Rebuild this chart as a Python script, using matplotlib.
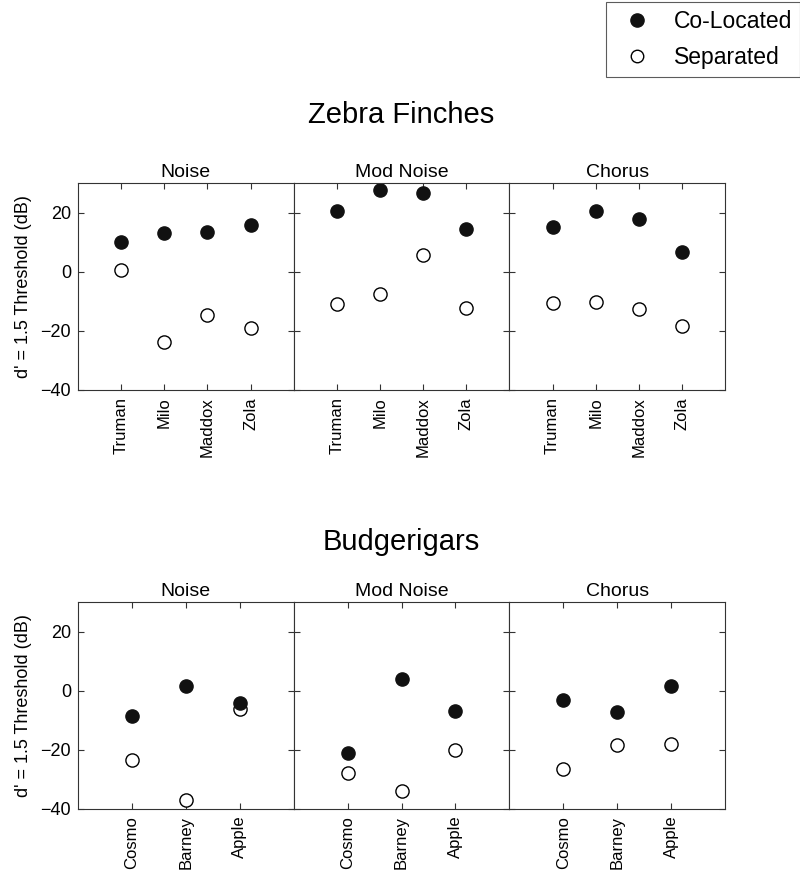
import numpy as np
import matplotlib
matplotlib.use('Agg')
import matplotlib.pyplot as plt
from matplotlib.lines import Line2D

plt.rcParams['font.family'] = ['Liberation Sans', 'DejaVu Sans']

conditions = ['Noise', 'Mod Noise', 'Chorus']

zf_birds = ['Truman', 'Milo', 'Maddox', 'Zola']
zf_coloc = [[10.0, 13.0, 13.4, 15.8],
            [20.5, 27.6, 26.7, 14.4],
            [15.2, 20.6, 17.7, 6.5]]
zf_sep = [[0.7, -23.6, -14.6, -18.9],
          [-10.8, -7.7, 5.8, -12.4],
          [-10.5, -10.3, -12.7, -18.4]]

bg_birds = ['Cosmo', 'Barney', 'Apple']
bg_coloc = [[-8.6, 1.7, -4.0],
            [-21.2, 3.8, -7.0],
            [-3.1, -7.1, 1.7]]
bg_sep = [[-23.4, -37.1, -6.2],
          [-28.0, -34.1, -20.0],
          [-26.7, -18.3, -18.1]]

fig = plt.figure(figsize=(8, 8.71), dpi=100)

left = 78 / 800
w = 215.7 / 800
rows = [(1 - 390 / 871, 207 / 871, zf_birds, zf_coloc, zf_sep, 'Zebra Finches', 1 - 123 / 871),
        (1 - 808.7 / 871, 206.5 / 871, bg_birds, bg_coloc, bg_sep, 'Budgerigars', 1 - 550 / 871)]

ms = 9.5
for bottom, h, birds, coloc, sep, group, ty in rows:
    x = np.arange(1, len(birds) + 1)
    for i, cond in enumerate(conditions):
        ax = fig.add_axes([left + i * w, bottom, w, h])
        ax.plot(x, sep[i], 'o', ms=ms, mfc='white', mec='black', mew=1.0)
        ax.plot(x, coloc[i], 'o', ms=ms, mfc='#111111', mec='#111111')
        ax.set_xlim(0, len(birds) + 1)
        ax.set_ylim(-40, 30)
        ax.set_xticks(x)
        ax.set_xticklabels(birds, rotation=90, fontsize=12)
        ax.set_yticks([-40, -20, 0, 20])
        ax.tick_params(direction='in', top=True, right=True, length=4,
                       width=0.8, color='#333333', pad=5)
        ax.tick_params(axis='y', labelsize=13)
        if i == 0:
            ax.set_ylabel("d' = 1.5 Threshold (dB)", fontsize=13, labelpad=6)
        else:
            ax.set_yticklabels([])
        for s in ax.spines.values():
            s.set_linewidth(0.8)
            s.set_color('#333333')
        ax.set_title(cond, fontsize=14, pad=4.5)
    fig.text(left + 1.5 * w, ty, group, ha='center', va='baseline', fontsize=21)

handles = [Line2D([], [], ls='none', marker='o', ms=9.5, mfc='#111111', mec='#111111'),
           Line2D([], [], ls='none', marker='o', ms=9, mfc='white', mec='black')]
leg = fig.legend(handles, ['Co-Located', 'Separated'], loc='upper left',
                 bbox_to_anchor=(606 / 800, 1 - 2 / 871), fontsize=16.5, frameon=True,
                 fancybox=False, edgecolor='#333333', borderaxespad=0,
                 labelspacing=0.55, handletextpad=0.6, borderpad=0.35,
                 handlelength=2.0)
leg.get_frame().set_linewidth(0.8)

fig.savefig('out.png', dpi=100)
